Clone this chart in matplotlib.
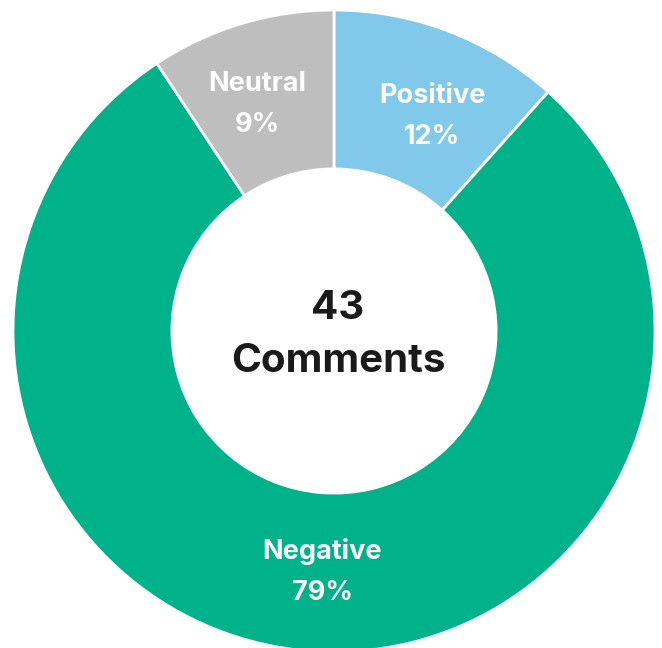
import matplotlib
matplotlib.use("Agg")
import matplotlib.pyplot as plt

categories = ["Positive", "Negative", "Neutral"]
counts = [5, 34, 4]
percent_labels = ["12%", "79%", "9%"]
colors = ["#80c9ea", "#00b289", "#bebebe"]
total_label = "43"
center_caption = "Comments"

plt.rcParams['font.family'] = ['Inter', 'DejaVu Sans']

fig = plt.figure(figsize=(6.62, 6.48), dpi=100)
ax = fig.add_axes([0, 0, 1, 1])
R = 321.0
cx, cy = 334.0, 648 - 331.0

wedges, _ = ax.pie(counts, colors=colors, startangle=90, counterclock=False,
                   radius=1.0, wedgeprops=dict(width=0.495, edgecolor='white', linewidth=2))
ax.set_aspect('auto')
ax.set_xlim(-cx / R, (662 - cx) / R)
ax.set_ylim(-cy / R, (648 - cy) / R)
ax.axis('off')

label_pos = {"Positive": (432, 116), "Negative": (322, 572), "Neutral": (257, 104)}
for cat, pct in zip(categories, percent_labels):
    px, py = label_pos[cat]
    x = (px - cx) / R
    y = ((648 - py) - cy) / R
    ax.text(x, y, f"{cat}\n{pct}", ha='center', va='center', color='white',
            fontsize=19.5, fontweight='bold', linespacing=1.75)

ax.text((338 - cx) / R, ((648 - 335) - cy) / R, f"{total_label}\n{center_caption}",
        ha='center', va='center', color='#1a1a1a', fontsize=29, fontweight='bold',
        linespacing=1.55)

fig.savefig("out.png", dpi=100)
